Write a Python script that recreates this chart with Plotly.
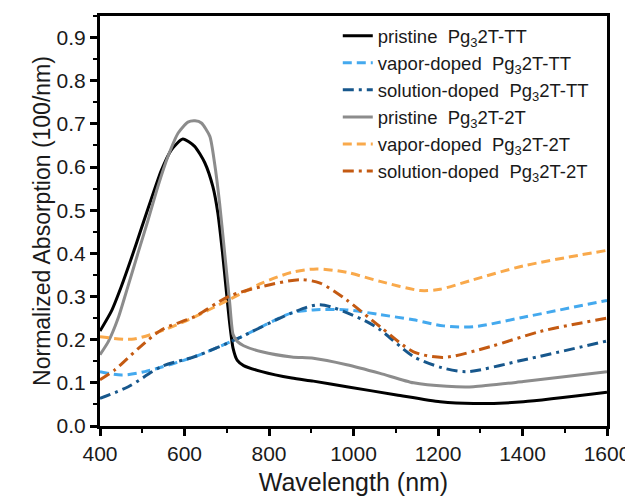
import plotly.graph_objects as go

# ---- data ----
wl_pristine_tt = [400, 427, 450, 474, 498, 522, 545, 569, 596, 624, 648, 667, 679, 690, 698, 706, 715, 725, 740, 783, 854, 905, 984, 1102, 1205, 1284, 1402, 1600]
abs_pristine_tt = [0.220, 0.266, 0.322, 0.388, 0.458, 0.528, 0.592, 0.640, 0.665, 0.648, 0.610, 0.555, 0.493, 0.401, 0.323, 0.246, 0.180, 0.152, 0.140, 0.126, 0.111, 0.104, 0.091, 0.072, 0.056, 0.052, 0.056, 0.078]

wl_vapor_tt = [400, 451, 506, 625, 720, 854, 905, 984, 1063, 1142, 1213, 1284, 1402, 1600]
abs_vapor_tt = [0.126, 0.118, 0.126, 0.161, 0.200, 0.262, 0.269, 0.269, 0.258, 0.246, 0.232, 0.230, 0.252, 0.291]

wl_solution_tt = [400, 467, 546, 625, 720, 854, 921, 1023, 1063, 1142, 1210, 1268, 1402, 1600]
abs_solution_tt = [0.064, 0.091, 0.138, 0.161, 0.200, 0.262, 0.281, 0.246, 0.223, 0.161, 0.135, 0.126, 0.153, 0.197]

wl_pristine_2t = [400, 420, 443, 466, 490, 514, 537, 561, 585, 608, 625, 640, 660, 671, 683, 695, 707, 715, 725, 740, 783, 854, 905, 984, 1063, 1142, 1221, 1284, 1402, 1600]
abs_pristine_2t = [0.165, 0.196, 0.250, 0.323, 0.401, 0.478, 0.555, 0.625, 0.679, 0.704, 0.707, 0.702, 0.671, 0.610, 0.517, 0.401, 0.285, 0.212, 0.196, 0.186, 0.172, 0.160, 0.157, 0.142, 0.122, 0.100, 0.092, 0.091, 0.103, 0.126]

wl_vapor_2t = [400, 475, 530, 609, 704, 783, 854, 913, 984, 1063, 1158, 1205, 1284, 1402, 1600]
abs_vapor_2t = [0.207, 0.201, 0.215, 0.246, 0.292, 0.331, 0.356, 0.364, 0.356, 0.335, 0.314, 0.317, 0.339, 0.371, 0.407]

wl_solution_2t = [400, 435, 491, 546, 625, 704, 783, 873, 921, 984, 1063, 1142, 1213, 1324, 1442, 1600]
abs_solution_2t = [0.107, 0.130, 0.180, 0.223, 0.254, 0.300, 0.323, 0.339, 0.331, 0.292, 0.230, 0.172, 0.159, 0.184, 0.219, 0.250]

series_names = [
    "pristine&nbsp; Pg<sub>3</sub>2T-TT",
    "vapor-doped&nbsp; Pg<sub>3</sub>2T-TT",
    "solution-doped&nbsp; Pg<sub>3</sub>2T-TT",
    "pristine&nbsp; Pg<sub>3</sub>2T-2T",
    "vapor-doped&nbsp; Pg<sub>3</sub>2T-2T",
    "solution-doped&nbsp; Pg<sub>3</sub>2T-2T",
]
series_x = [wl_pristine_tt, wl_vapor_tt, wl_solution_tt, wl_pristine_2t, wl_vapor_2t, wl_solution_2t]
series_y = [abs_pristine_tt, abs_vapor_tt, abs_solution_tt, abs_pristine_2t, abs_vapor_2t, abs_solution_2t]
colors = ["#000000", "#44A9EE", "#17578C", "#8C8C8C", "#F9A94B", "#C45A12"]
dashes = ["solid", "9px,5px", "11px,5px,3px,5px", "solid", "9px,5px", "11px,5px,3px,5px"]
smooth = [0.6, 0.8, 0.8, 0.6, 0.8, 0.8]

fig = go.Figure()
for i in range(len(series_names)):
    fig.add_trace(go.Scatter(
        x=series_x[i], y=series_y[i], name=series_names[i], mode="lines",
        line=dict(color=colors[i], width=3, dash=dashes[i], shape="spline", smoothing=smooth[i]),
        legendgroup=f"g{i}",
    ))

font_family = "Liberation Sans, Arial, sans-serif"
txt = "#1a1a1a"
# the page adds an 8px body margin, so the figure is sized to fit the 633x499 window
fig.update_layout(
    width=625, height=491,
    margin=dict(l=92, r=26, t=8, b=73),
    paper_bgcolor="white", plot_bgcolor="white",
    font=dict(family=font_family, color=txt),
    showlegend=True,
    legend=dict(
        x=0.469, y=0.997, xanchor="left", yanchor="top",
        bgcolor="rgba(0,0,0,0)", borderwidth=0,
        font=dict(size=18.5, color=txt),
        tracegroupgap=4, traceorder="normal",
    ),
    xaxis=dict(
        range=[400, 1600], dtick=200, tick0=400,
        showgrid=False, zeroline=False, automargin=False,
        showline=True, linecolor="black", linewidth=3, mirror=True,
        ticks="outside", ticklen=7, tickwidth=2.5, tickcolor="black",
        minor=dict(ticks="outside", ticklen=4, tickwidth=2, dtick=100, tickcolor="black"),
        tickfont=dict(size=21, color=txt),
        title=dict(text="Wavelength (nm)", font=dict(size=25, color=txt), standoff=10),
    ),
    yaxis=dict(
        range=[0, 0.95], dtick=0.1, tick0=0, tickformat=".1f",
        showgrid=False, zeroline=False, automargin=False,
        showline=True, linecolor="black", linewidth=3, mirror=True,
        ticks="outside", ticklen=7, tickwidth=2.5, tickcolor="black",
        minor=dict(ticks="outside", ticklen=4, tickwidth=2, dtick=0.05, tickcolor="black"),
        tickfont=dict(size=21, color=txt),
        title=dict(text="Normalized Absorption (100/nm)", font=dict(size=23, color=txt), standoff=0),
    ),
)

fig.write_html("out.html")
